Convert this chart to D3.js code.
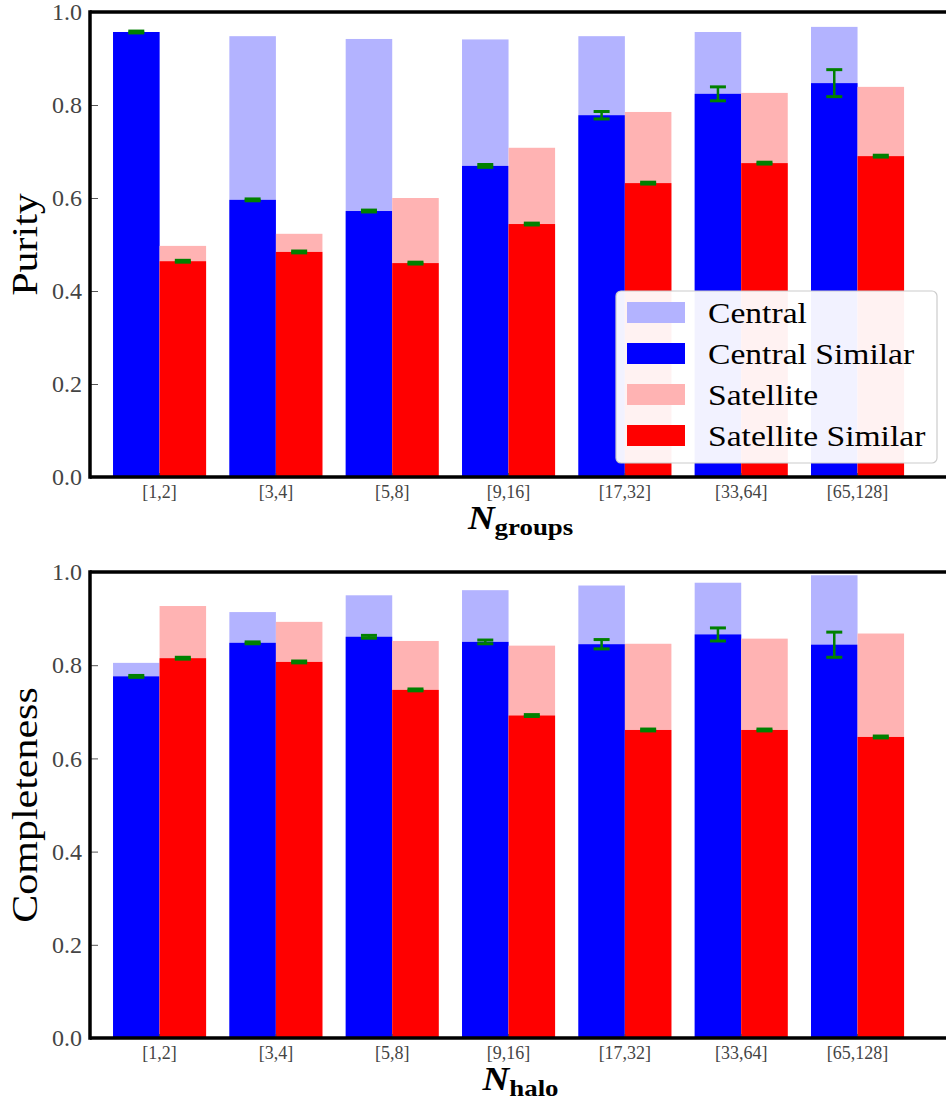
<!DOCTYPE html>
<html>
<head>
<meta charset="utf-8">
<script src="https://cdn.jsdelivr.net/npm/d3@7"></script>
<style>
  body { margin: 0; background: #fff; }
  svg text { font-family: "Liberation Serif", "DejaVu Serif", serif; }
</style>
</head>
<body>
<div id="chart"></div>
<script>
// Bins along the x axis (shared by both panels)
var bins = ["[1,2]", "[3,4]", "[5,8]", "[9,16]", "[17,32]", "[33,64]", "[65,128]"];
var yTicks = [0.0, 0.2, 0.4, 0.6, 0.8, 1.0];

// Purity panel
var purityCentral        = [0.957, 0.948, 0.942, 0.941, 0.948, 0.957, 0.968];
var purityCentralSim     = [0.957, 0.596, 0.572, 0.669, 0.778, 0.824, 0.847];
var purityCentralErr     = [0.002, 0.002, 0.002, 0.003, 0.008, 0.015, 0.029];
var puritySatellite      = [0.497, 0.523, 0.600, 0.708, 0.785, 0.826, 0.839];
var puritySatelliteSim   = [0.464, 0.484, 0.460, 0.544, 0.632, 0.675, 0.690];
var puritySatelliteErr   = [0.002, 0.002, 0.002, 0.002, 0.002, 0.002, 0.002];

// Completeness panel
var complCentral         = [0.805, 0.914, 0.950, 0.961, 0.971, 0.977, 0.993];
var complCentralSim      = [0.776, 0.848, 0.861, 0.850, 0.845, 0.866, 0.844];
var complCentralErr      = [0.002, 0.002, 0.003, 0.004, 0.010, 0.014, 0.027];
var complSatellite       = [0.927, 0.893, 0.852, 0.842, 0.846, 0.857, 0.868];
var complSatelliteSim    = [0.815, 0.807, 0.747, 0.692, 0.661, 0.661, 0.646];
var complSatelliteErr    = [0.002, 0.002, 0.002, 0.002, 0.002, 0.002, 0.002];

var legendLabels = ["Central", "Central Similar", "Satellite", "Satellite Similar"];
var legendColors = ["#b3b3ff", "#0000ff", "#ffb3b3", "#ff0000"];

var W = 946, H = 1101;
// serif fallback is narrower than the TeX font, so stretch it a little
var STRETCH = 1.12;

var svg = d3.select("#chart").append("svg")
    .attr("width", W)
    .attr("height", H);

var x = d3.scaleBand()
    .domain(bins)
    .range([101.4, 915.7])
    .paddingInner(0.2)
    .paddingOuter(0.1);

var sub = d3.scaleBand()
    .domain(["central", "satellite"])
    .range([0, x.bandwidth()]);

function drawPanel(top, bottom, series, ylabel, xsub) {
    var g = svg.append("g");
    var y = d3.scaleLinear().domain([0, 1]).range([bottom, top]);
    var left = 90;

    // rows: one per bin
    var rows = bins.map(function(b, i){
	return {
	    bin: b,
	    c: series.c[i], cs: series.cs[i], ce: series.ce[i],
	    s: series.s[i], ss: series.ss[i], se: series.se[i]
	};
    });

    function bars(key, grp, color){
	g.append("g").selectAll("rect")
	    .data(rows).enter().append("rect")
	    .attr("x", function(d){ return x(d.bin) + sub(grp); })
	    .attr("width", sub.bandwidth())
	    .attr("y", function(d){ return y(d[key]); })
	    .attr("height", function(d){ return y(0) - y(d[key]); })
	    .attr("fill", color);
    }
    bars("c", "central", legendColors[0]);
    bars("cs", "central", legendColors[1]);
    bars("s", "satellite", legendColors[2]);
    bars("ss", "satellite", legendColors[3]);

    // error bars on the "similar" bars
    function errs(key, ekey, grp){
	var eg = g.append("g").attr("stroke", "#008000").attr("stroke-width", 2.5);
	rows.forEach(function(d){
	    var cx = x(d.bin) + sub(grp) + sub.bandwidth() / 2;
	    var y1 = y(d[key] + d[ekey]), y2 = y(d[key] - d[ekey]);
	    eg.append("line").attr("x1", cx).attr("x2", cx).attr("y1", y1).attr("y2", y2);
	    eg.append("line").attr("x1", cx - 8).attr("x2", cx + 8).attr("y1", y1).attr("y2", y1)
		.attr("stroke-width", 3);
	    eg.append("line").attr("x1", cx - 8).attr("x2", cx + 8).attr("y1", y2).attr("y2", y2)
		.attr("stroke-width", 3);
	});
    }
    errs("cs", "ce", "central");
    errs("ss", "se", "satellite");

    // y ticks (inward, grey)
    var yAxis = d3.axisLeft(y).tickValues(yTicks).tickSize(-8).tickPadding(8)
	.tickFormat(d3.format(".1f"));
    var ya = g.append("g").attr("transform", "translate(" + left + ",0)").call(yAxis);
    ya.select(".domain").remove();
    ya.selectAll(".tick line").attr("stroke", "#555").attr("stroke-width", 1);
    ya.selectAll(".tick text")
	.attr("fill", "#444")
	.attr("font-size", 24)
	.attr("font-family", "Liberation Serif");

    // x ticks at bin centres
    var xAxis = d3.axisBottom(x).tickSize(-4).tickPadding(8);
    var xa = g.append("g").attr("transform", "translate(0," + bottom + ")").call(xAxis);
    xa.select(".domain").remove();
    xa.selectAll(".tick line").attr("stroke", "#444").attr("stroke-width", 1);
    xa.selectAll(".tick text")
	.attr("fill", "#444")
	.attr("font-size", 18)
	.attr("font-family", "Liberation Serif");

    // spines (right side is cut off by the figure edge)
    g.append("line").attr("x1", left).attr("x2", W).attr("y1", top).attr("y2", top)
	.attr("stroke", "#000").attr("stroke-width", 3.5);
    g.append("line").attr("x1", left).attr("x2", W).attr("y1", bottom).attr("y2", bottom)
	.attr("stroke", "#000").attr("stroke-width", 3.5);
    g.append("line").attr("x1", left).attr("x2", left).attr("y1", top - 1.75).attr("y2", bottom + 1.75)
	.attr("stroke", "#000").attr("stroke-width", 3.5);

    // y label
    g.append("text")
	.attr("transform", "translate(37," + ((top + bottom) / 2) + ") rotate(-90) scale(1.2,1)")
	.attr("text-anchor", "middle")
	.attr("font-size", 35)
	.attr("fill", "#000")
	.text(ylabel);

    // x label N_sub
    var xl = g.append("text")
	.attr("transform", "translate(" + ((x.range()[0] + x.range()[1]) / 2 + 12) + "," + (bottom + 52) + ") scale(" + STRETCH + ",1)")
	.attr("text-anchor", "middle")
	.attr("font-weight", "bold")
	.attr("fill", "#000");
    xl.append("tspan").attr("font-size", 33).attr("font-style", "italic").text("N");
    xl.append("tspan").attr("font-size", 24).attr("dy", 6).text(xsub);

    return g;
}

drawPanel(12, 477, {
    c: purityCentral, cs: purityCentralSim, ce: purityCentralErr,
    s: puritySatellite, ss: puritySatelliteSim, se: puritySatelliteErr
}, "Purity", "groups");

drawPanel(572, 1038, {
    c: complCentral, cs: complCentralSim, ce: complCentralErr,
    s: complSatellite, ss: complSatelliteSim, se: complSatelliteErr
}, "Completeness", "halo");

// legend in the purity panel
var lg = svg.append("g").attr("transform", "translate(616,291)");
lg.append("rect")
    .attr("width", 321).attr("height", 172)
    .attr("rx", 5).attr("ry", 5)
    .attr("fill", "#fff").attr("fill-opacity", 0.95)
    .attr("stroke", "#ccc").attr("stroke-width", 1.2);
legendLabels.forEach(function(lab, i){
    var yy = 22 + i * 41;
    lg.append("rect").attr("x", 11).attr("y", yy - 11).attr("width", 58).attr("height", 21)
	.attr("fill", legendColors[i]);
    lg.append("text")
	.attr("transform", "translate(92," + (yy + 10) + ") scale(" + STRETCH + ",1)")
	.attr("font-size", 30).attr("fill", "#000").text(lab);
});
</script>
</body>
</html>
